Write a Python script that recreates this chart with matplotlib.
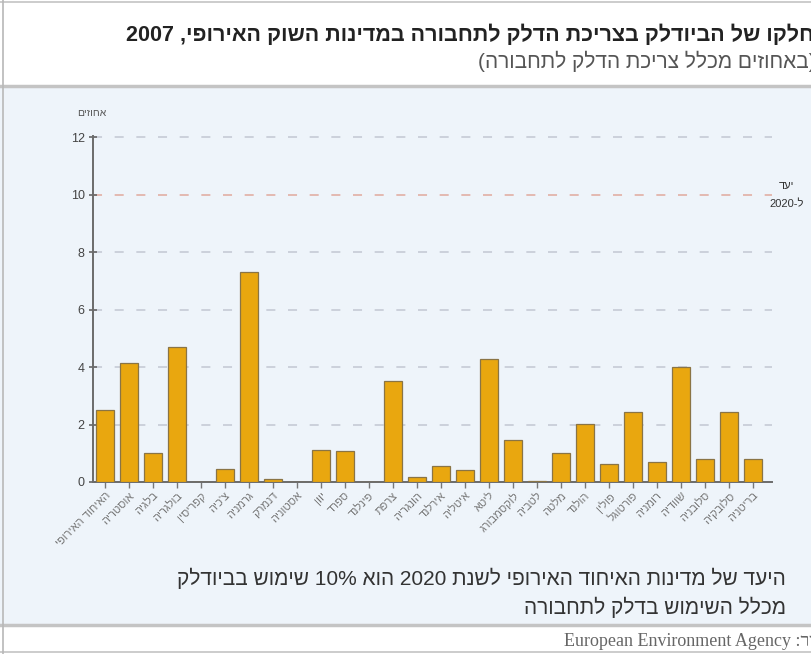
import re
import matplotlib
matplotlib.use("Agg")
import matplotlib.pyplot as plt
from matplotlib.patches import Rectangle
from matplotlib.lines import Line2D

# ── Data (logical Hebrew order) ──────────────────────────────────────────────
COUNTRIES = [
    "האיחוד האירופי", "אוסטריה", "בלגיה", "בולגריה", "קפריסין", "צ'כיה",
    "גרמניה", "דנמרק", "אסטוניה", "יוון", "ספרד", "פינלנד", "צרפת",
    "הונגריה", "אירלנד", "איטליה", "ליטא", "לוקסמבורג", "לטביה", "מלטה",
    "הולנד", "פולין", "פורטוגל", "רומניה", "שוודיה", "סלובניה", "סלובקיה",
    "בריטניה",
]
SHARE = [
    2.5, 4.15, 1.0, 4.7, 0.0, 0.45,
    7.33, 0.09, 0.0, 1.12, 1.09, 0.0, 3.52,
    0.17, 0.54, 0.43, 4.27, 1.47, 0.05, 1.0,
    2.01, 0.63, 2.45, 0.71, 4.0, 0.79, 2.45,
    0.79,
]
Y_TICKS = [0, 2, 4, 6, 8, 10, 12]
TARGET = 10

TITLE = "חלקו של הביודלק בצריכת הדלק לתחבורה במדינות השוק האירופי, 2007"
SUBTITLE = "(באחוזים מכלל צריכת הדלק לתחבורה)"
Y_LABEL = "אחוזים"
TARGET_LABEL = ["יעד", "ל-2020"]
NOTE = ["היעד של מדינות האיחוד האירופי לשנת 2020 הוא 10% שימוש בביודלק",
        "מכלל השימוש בדלק לתחבורה"]
SOURCE = "מקור: European Environment Agency"

MIRROR = str.maketrans("()", ")(")


def rtl(s):
    """Logical Hebrew -> visual order (matplotlib has no bidi)."""
    r = s[::-1].translate(MIRROR)
    return re.sub(r"[A-Za-z0-9%.]+(?: [A-Za-z0-9%.]+)*",
                  lambda m: m.group(0)[::-1], r)


plt.rcParams["font.family"] = ["Liberation Sans", "DejaVu Sans"]

W, H = 812, 654
fig = plt.figure(figsize=(W / 100, H / 100), dpi=100)
fig.patch.set_facecolor("white")


def fx(px):
    return px / W


def fy(py):
    return 1 - py / H


# panel background + frame lines
fig.add_artist(Rectangle((0, fy(625)), 1, fy(87) - fy(625),
                         transform=fig.transFigure, facecolor="#eef4fa",
                         edgecolor="none", zorder=-5))
for yy, lw in [(2, 1.2), (86, 2.5), (625, 2.5), (652, 1.2)]:
    fig.add_artist(Line2D([0, 1], [fy(yy), fy(yy)], transform=fig.transFigure,
                          color="#c4c4c4", lw=lw, zorder=-4))
fig.add_artist(Line2D([fx(3), fx(3)], [0, 1], transform=fig.transFigure,
                      color="#b8b8b8", lw=1.2, zorder=-4))

# titles
fig.text(fx(814), fy(35), rtl(TITLE), ha="right", va="center",
         fontsize=15.5, fontweight="bold", color="#222222")
fig.text(fx(816), fy(61), rtl(SUBTITLE), ha="right", va="center",
         fontsize=15, color="#555555")

# ── Chart ────────────────────────────────────────────────────────────────────
ax = fig.add_axes([fx(93), fy(482), fx(772) - fx(93), fy(136) - fy(482)])
ax.set_facecolor("none")
x = list(range(len(COUNTRIES)))
ax.bar(x, SHARE, width=0.74, color="#e9a70f", edgecolor="#8a7445",
       linewidth=0.9, zorder=3)

for t in Y_TICKS[1:]:
    c = "#e2b4ab" if t == TARGET else "#c9ced8"
    ax.axhline(t, color=c, lw=1.3, dashes=(5, 7), zorder=1)

ax.set_xlim(-0.5, 27.8)
ax.set_ylim(0, 12.05)
ax.set_yticks(Y_TICKS)
ax.set_xticks(x)
ax.set_xticklabels([rtl(c) for c in COUNTRIES], rotation=45, ha="right",
                   rotation_mode="anchor", fontsize=8, color="#555555")
ax.tick_params(axis="y", direction="inout", length=6, width=1.2,
               colors="#666666", labelsize=9, labelcolor="#444444", pad=3)
ax.tick_params(axis="x", direction="out", length=4, width=1,
               colors="#777777", pad=2)
for s in ["top", "right"]:
    ax.spines[s].set_visible(False)
ax.spines["left"].set_color("#6b6b6b")
ax.spines["left"].set_linewidth(1.4)
ax.spines["bottom"].set_color("#6b6b6b")
ax.spines["bottom"].set_linewidth(1.4)

fig.text(fx(92), fy(113), rtl(Y_LABEL), ha="center", va="center",
         fontsize=7.5, color="#555555")
fig.text(fx(787), fy(186), rtl(TARGET_LABEL[0]), ha="center", va="center",
         fontsize=8, color="#333333")
fig.text(fx(787), fy(204), rtl(TARGET_LABEL[1]), ha="center", va="center",
         fontsize=8, color="#333333")

# note inside panel
fig.text(fx(786), fy(578), rtl(NOTE[0]), ha="right", va="center",
         fontsize=15, color="#333333")
fig.text(fx(786), fy(607), rtl(NOTE[1]), ha="right", va="center",
         fontsize=15, color="#333333")

# source
fig.text(fx(834), fy(641), rtl(SOURCE), ha="right", va="center",
         fontsize=13, color="#666666", family=["Liberation Serif", "DejaVu Serif"])

fig.savefig("out.png", dpi=100)
